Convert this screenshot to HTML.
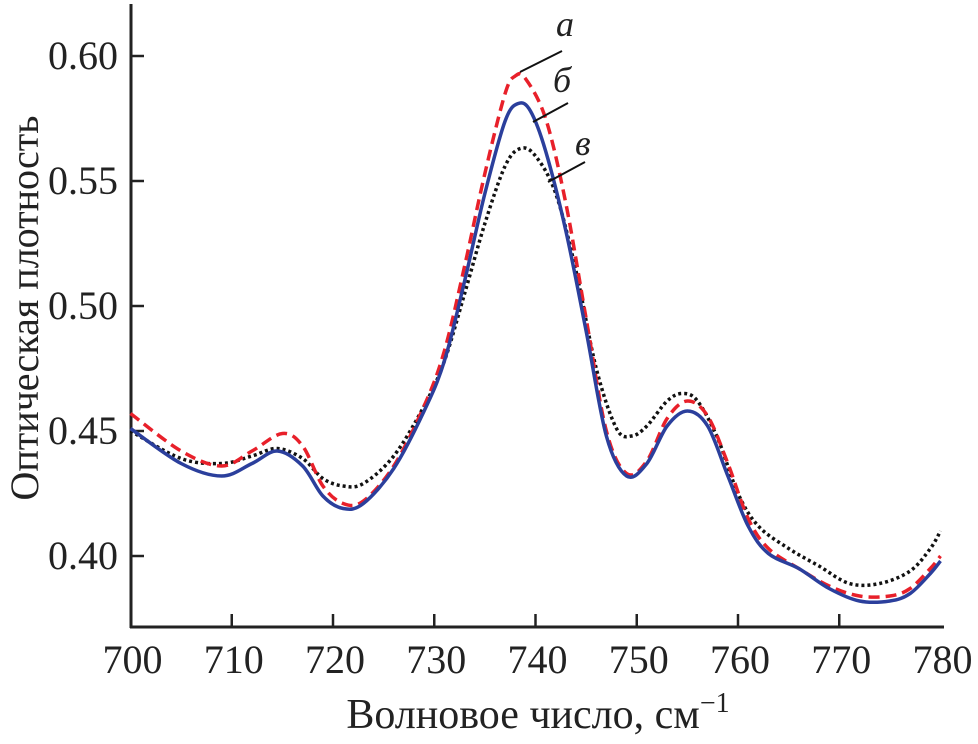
<!DOCTYPE html>
<html><head><meta charset="utf-8"><style>
body{margin:0;background:#fff}
svg text{font-family:"Liberation Serif","Times New Roman",serif;fill:#222}
</style></head><body>
<svg id="chart" width="978" height="739" viewBox="0 0 978 739" xmlns="http://www.w3.org/2000/svg">
<g id="axes"></g>
<g id="series"></g>
<g stroke="#111" stroke-width="2">
 <line x1="520" y1="72" x2="562" y2="51"/>
 <line x1="533" y1="122" x2="568" y2="103"/>
 <line x1="548" y1="182" x2="585" y2="162"/>
</g>
<text x="556" y="36" font-size="36" font-style="italic">а</text>
<text x="553" y="92" font-size="36" font-style="italic">б</text>
<text x="575" y="155" font-size="36" font-style="italic">в</text>
<text x="538" y="728" font-size="42" text-anchor="middle">Волновое число, см<tspan font-size="28" dy="-16">−1</tspan></text>
<text transform="translate(38,308) rotate(-90)" font-size="40" text-anchor="middle">Оптическая плотность</text>
</svg>
<script>
const xTicks=[700,710,720,730,740,750,760,770,780];
const yTicks=[0.40,0.45,0.50,0.55,0.60];
const yTickLabels=["0.40","0.45","0.50","0.55","0.60"];
const xA=[700,705,709,712,715,717,719,721,723,726,729,731,733,735,737,738,739,741,743,745,747,749,751,753,755,757,759,761,763,766,769,772,775,777,779,780];
const yA=[0.457,0.442,0.436,0.442,0.449,0.444,0.428,0.421,0.422,0.436,0.46,0.482,0.516,0.553,0.585,0.592,0.591,0.575,0.541,0.495,0.45,0.433,0.438,0.455,0.462,0.456,0.437,0.415,0.403,0.395,0.388,0.384,0.384,0.387,0.395,0.400];
const xB=[700,705,709,712,714.5,717,719,721,723,726,729,731,733,735,737,738.3,739.5,741,743,745,747,749,751,753,755,757,759,761,763,766,769,772,775,777,779,780];
const yB=[0.451,0.437,0.432,0.437,0.442,0.436,0.424,0.419,0.421,0.435,0.458,0.478,0.51,0.545,0.574,0.581,0.578,0.562,0.53,0.49,0.448,0.432,0.437,0.452,0.458,0.452,0.432,0.412,0.401,0.395,0.387,0.382,0.382,0.385,0.393,0.398];
const xV=[700,705,709,712,714.5,717,719,721,723,726,729,731,733,735,737,738.5,740,742,744,746,748,749.5,751,753,754.5,756,758,760,762,765,768,771,774,777,779,780];
const yV=[0.450,0.439,0.437,0.44,0.443,0.439,0.431,0.428,0.429,0.44,0.46,0.478,0.505,0.533,0.556,0.563,0.56,0.545,0.514,0.475,0.451,0.448,0.452,0.462,0.465,0.462,0.447,0.425,0.412,0.403,0.396,0.389,0.389,0.394,0.403,0.410];
const NS="http://www.w3.org/2000/svg";
const X0=130.5,X1=940.5,Y0=556,Y1=56;
const sx=v=>X0+(v-700)/80*(X1-X0);
const sy=v=>Y0+(v-0.40)/0.20*(Y1-Y0);
const axes=document.getElementById('axes');
function mk(tag,attrs,parent){const e=document.createElementNS(NS,tag);for(const k in attrs)e.setAttribute(k,attrs[k]);parent.appendChild(e);return e;}
const yl=mk('line',{x1:131,y1:4,x2:131,y2:628,stroke:'#222','stroke-width':3},axes);


const xl=mk('line',{x1:130,y1:627,x2:944,y2:627,stroke:'#222','stroke-width':3},axes);


xTicks.forEach(t=>{
 if(t>700&&t<780){const l=mk('line',{x1:sx(t),y1:627,x2:sx(t),y2:614,stroke:'#222','stroke-width':2.5},axes);
 
 }
 const tx=mk('text',{x:sx(t)+2,y:673,'font-size':40,'text-anchor':'middle'},axes);tx.textContent=t;
 
 
});
yTicks.forEach((t,i)=>{
 const l=mk('line',{x1:131,y1:sy(t),x2:144,y2:sy(t),stroke:'#222','stroke-width':2.5},axes);
 
 
 const tx=mk('text',{x:118,y:sy(t)+13,'font-size':40,'text-anchor':'end'},axes);tx.textContent=yTickLabels[i];
 
 
});
function path(xs,ys){
 const p=xs.map((x,i)=>[sx(x),sy(ys[i])]);
 let d='M'+p[0][0]+','+p[0][1];
 for(let i=0;i<p.length-1;i++){
  const a=p[Math.max(0,i-1)],b=p[i],c=p[i+1],e=p[Math.min(p.length-1,i+2)];
  d+=' C'+(b[0]+(c[0]-a[0])/6)+','+(b[1]+(c[1]-a[1])/6)+' '+(c[0]-(e[0]-b[0])/6)+','+(c[1]-(e[1]-b[1])/6)+' '+c[0]+','+c[1];
 }
 return d;
}
const g=document.getElementById('series');
const pv=mk('path',{d:path(xV,yV),fill:'none',stroke:'#111','stroke-width':3.5,'stroke-dasharray':'3 3'},g);


const pa=mk('path',{d:path(xA,yA),fill:'none',stroke:'#e8202a','stroke-width':3.5,'stroke-dasharray':'11 6'},g);


const pb=mk('path',{d:path(xB,yB),fill:'none',stroke:'#2b3f9c','stroke-width':3.5},g);


</script>
</body></html>
